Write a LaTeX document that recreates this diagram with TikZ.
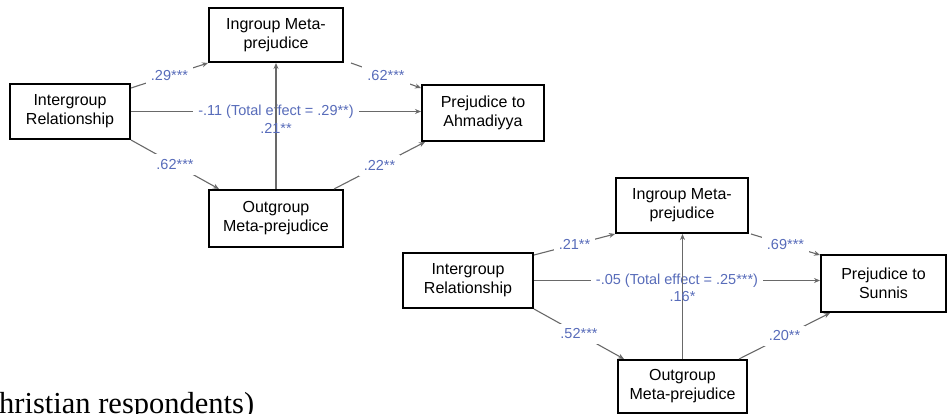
\documentclass[tikz,border=0pt]{standalone}
\usepackage{fontspec}
\setmainfont{Liberation Serif}
\setsansfont{Liberation Sans}
\usepackage{tikz}
\usetikzlibrary{arrows.meta,positioning,calc}
\definecolor{coefblue}{RGB}{88,108,186}
\definecolor{linegray}{RGB}{105,105,105}

\begin{document}
\begin{tikzpicture}[x=1pt, y=-1pt,
    box/.style={draw, line width=2pt, align=center, inner sep=0pt, font=\sffamily\fontsize{16}{19}\selectfont},
    coef/.style={text=coefblue, fill=white, inner sep=5pt, font=\sffamily\fontsize{14.5}{16}\selectfont},
    link/.style={draw=linegray, line width=1.1pt, -{Stealth[length=6pt,width=5pt]}}
]
    \useasboundingbox (0,0) rectangle (951,414);

    % Ahmadiyya model
    \node [box, minimum width=134pt, minimum height=54pt] (ingroupA) at (276,35) {Ingroup Meta-\\prejudice};
    \node [box, minimum width=120pt, minimum height=55pt] (interA) at (70,111.5) {Intergroup\\Relationship};
    \node [box, minimum width=122pt, minimum height=56pt] (prejA) at (483,113) {Prejudice to\\Ahmadiyya};
    \node [box, minimum width=134pt, minimum height=57pt] (outgroupA) at (276,218.5) {Outgroup\\Meta-prejudice};

    \draw [link] ([yshift=-5pt]interA.north east) -- node [coef] {.29***} (ingroupA.south west);
    \draw [link] ([xshift=7pt]ingroupA.south east) -- node [coef] {.62***} ([yshift=-4pt]prejA.north west);
    \draw [link] (interA.east) -- node [coef] {-.11 (Total effect = .29**)} (interA.east -| prejA.west);
    \draw [link] (interA.south east) -- node [coef] {.62***} ([xshift=11pt]outgroupA.north west);
    \draw [link] ([xshift=-10pt]outgroupA.north east) -- node [coef] {.22**} ([xshift=4pt]prejA.south west);
    \draw [link] (outgroupA.north) -- node [coef, fill=none, inner sep=1pt, pos=0.48] {.21**} (outgroupA.north |- ingroupA.south);

    % Sunni model
    \node [box, minimum width=132pt, minimum height=55pt] (ingroupB) at (682,205.5) {Ingroup Meta-\\prejudice};
    \node [box, minimum width=130pt, minimum height=55pt] (interB) at (468,280.5) {Intergroup\\Relationship};
    \node [box, minimum width=125pt, minimum height=57pt] (prejB) at (883.5,283.5) {Prejudice to\\Sunnis};
    \node [box, minimum width=129pt, minimum height=53pt] (outgroupB) at (682.5,386.5) {Outgroup\\Meta-prejudice};

    \draw [link] ([yshift=-3pt]interB.north east) -- node [coef] {.21**} (ingroupB.south west);
    \draw [link] ([xshift=2pt]ingroupB.south east) -- node [coef] {.69***} ([yshift=-1pt]prejB.north west);
    \draw [link] (interB.east) -- node [coef] {-.05 (Total effect = .25***)} (interB.east -| prejB.west);
    \draw [link] (interB.south east) -- node [coef] {.52***} ([xshift=7pt]outgroupB.north west);
    \draw [link] ([xshift=-9pt]outgroupB.north east) -- node [coef] {.20**} ([xshift=10pt]prejB.south west);
    \draw [link] (outgroupB.north) -- node [coef, fill=none, inner sep=1pt, pos=0.5] {.16*} (outgroupB.north |- ingroupB.south);

    \node [anchor=base west, inner sep=0pt, font=\fontsize{30.5}{34}\selectfont] (caption) at (-1,413) {hristian respondents)};
\end{tikzpicture}
\end{document}
